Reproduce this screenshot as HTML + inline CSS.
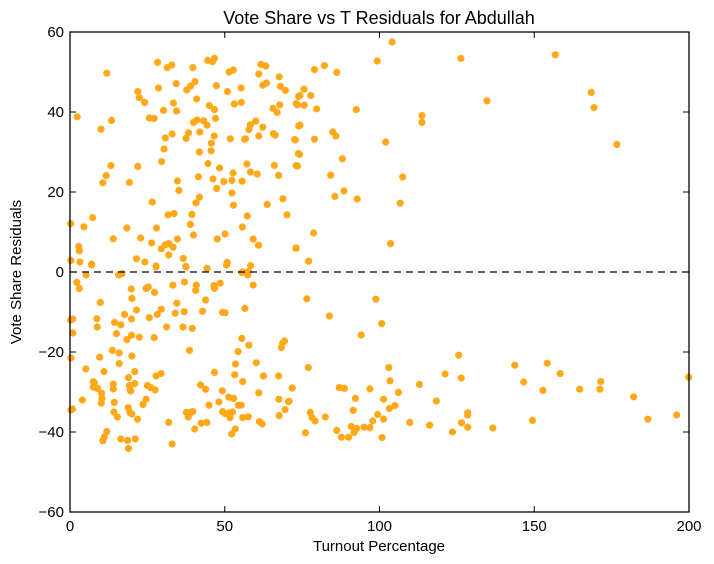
<!DOCTYPE html>
<html><head><meta charset="utf-8"><style>
body{margin:0;background:#fff;}
svg{display:block;font-family:"Liberation Sans",sans-serif;}
</style></head><body>
<svg id="chart" width="714" height="564">
<rect x="0" y="0" width="714" height="564" fill="#fff"/>
<text x="379" y="24" font-size="18" text-anchor="middle">Vote Share vs T Residuals for Abdullah</text>
<text x="379" y="551" font-size="15" text-anchor="middle">Turnout Percentage</text>
<text transform="translate(21,272) rotate(-90)" font-size="15" text-anchor="middle">Vote Share Residuals</text>
<g id="points"></g>
<g id="axes"></g>
</svg>
<script>
const xTicks = [0, 50, 100, 150, 200];
const yTicks = [-60, -40, -20, 0, 20, 40, 60];
const xs = [104.1,99.3,126.3,156.8,168.4,169.3,134.7,176.7,113.7,113.7,102,92.5,107.5,106.7,103.6,92.8,88.5,85.6,84.2,88,84.9,85.9,79,74.3,72.6,74.2,73.5,79,82.2,86.2,75.6,74.3,77.8,73.1,75.7,79.7,78.7,73,77.1,
76.5,83.8,98.8,100.7,94.1,125.6,143.7,154.2,158.4,126.4,121.2,112.9,146.6,152.8,164.7,171.2,171.5,182.1,186.7,196,199.9,149.4,136.6,128.5,128.5,128.5,126.5,123.6,118.4,116.2,109.8,106.1,103.4,103,105,103.2,101.3,101.3,100.8,99.4,97.8,96.9,95,91.5,92.2,90.9,91.8,92.6,96.9,87,88.7,87.7,90,86.2,82.5,77.6,78.2,79.2,76.1,77,71.8,70.8,
11.9,2.3,10,13.4,28.3,31.4,32.9,39.7,44.5,46,46.7,28.6,34.3,21.9,22.4,24.1,37.7,39,40.4,40.9,47.3,30.2,33.4,34.4,25.6,27.2,45,46.7,47,39.9,41,43.2,44.3,30.8,33,37.5,38.3,41.9,46.6,45.7,45.6,41.8,30.4,29.6,44.6,48.3,46.2,47.4,49.7,52.3,52.7,55.6,52.3,52.8,57.2,58.3,60.5,66,67.4,41.5,34.7,35.2,21.9,19.2,13.2,11.7,10.6,26.6,41.8,40.7,31.7,33.6,39.4,38.9,39.9,7.3,0.2,4.5,18.4,27.9,26.4,14,22.8,29.5,30.8,32,33.3,34.7,31.9,21.5,24.2,36.6,37.4,27.8,44.3,2.8,3,3.2,0.3,7,47.6,50.1,50.8,55.7,57.3,59.2,60.9,58.4,57.6,55.5,63.7,68.8,70.1,73.1,67.8,66.9,65.6,65.7,66.3,62.3,61,60,58.3,57.8,56.7,67.6,68,69.6,63.5,62.3,61,61.7,63.3,51.4,52.8,50.9,53.1,55.3,55.3,51.8,56.4,72.8,73.9,73.5,73.1,73.8,73.9,
7,5.2,2.2,3,15.7,16.8,27.8,37.5,44.3,50.6,57.4,59.2,55.8,48.5,46.5,46.7,43.8,42.8,49.3,50.1,56.5,40.8,40.6,37,33.2,34.5,34,36.9,39.5,36.5,31.2,38.6,27.3,25.3,24.6,19.8,20,21.5,9.8,25.6,28.2,29.5,19.9,17.6,14.4,16.4,8.7,8.8,0.9,0.9,15,18.4,19.9,22.4,27.2,13.7,15.9,20,15.9,9.6,5.1,11,0.3,7.5,7.9,7.5,8.9,10.2,10.3,10.1,14,14,14.3,14.2,15.3,4,0.8,18.9,20.9,19.2,19.6,19.4,20.9,18.8,19.4,20,21.8,23.6,24.6,25,26.1,27.5,27.8,29.4,11.9,11.1,10.6,16.4,18.6,21.1,18.9,31.9,33,37.6,39,38.2,39.7,40.3,42.4,44.2,42.2,43.8,46.7,44.9,48.1,49.2,49.3,50.1,51.4,51.7,51.3,52.9,52.5,52.2,53.4,54.4,55.3,55.8,57.6,53.2,53.5,54.3,55.8,55.5,57.8,60.2,62.5,61,61.2,62.1,68.3,68.7,69.3,67.4,67.5,67.6,69.5,70.6,71.8,0.2,0.3];
const ys = [57.5,52.75,53.4,54.3,44.9,41.1,42.8,31.9,39.1,37.4,32.5,40.6,23.75,17.2,7.1,18.25,20.25,18.9,24.2,28.3,35,34,33.2,36.7,33.1,29.4,26.5,50.6,51.6,49.9,45.7,44.1,44.1,42.1,41.7,40.75,9.75,5.9,2.7,
-6.7,-11,-6.8,-12.9,-15.75,-20.8,-23.3,-22.8,-25.4,-26.5,-25.5,-28.1,-27.5,-29.6,-29.3,-29.3,-27.4,-31.2,-36.8,-35.75,-26.3,-37.1,-39,-38.8,-35.75,-35.2,-37.7,-40,-32.25,-38.3,-37.6,-30.1,-27.2,-23.9,-33.4,-34.1,-31.8,-36.75,-41.4,-35.6,-37.25,-38.9,-38.8,-34.6,-31.6,-38.6,-40.1,-39.1,-29.2,-28.9,-29.1,-41.3,-41.3,-39.6,-36.25,-35.1,-36.4,-37.25,-40.2,-23.9,-29,-32.3,
49.7,38.8,35.7,37.9,52.4,51.1,51.75,51.1,52.9,52.6,53.4,46,47.1,45.1,43.6,42.4,45.5,46.5,47.6,43.25,46.6,40.4,42.25,40.25,38.5,38.4,41.6,40.6,38.4,37.4,38,37.8,36.7,33.5,34.5,33.4,34.8,35,34,32.2,30.3,30,30.75,27.6,27.1,26,23.25,20.9,22.6,22.9,24.75,22.7,19.75,16.7,27,25,24.5,26.65,24.16,23.8,22.75,20.4,26.4,22.4,26.6,24.1,22.3,17.5,18.7,17.3,14.3,14.6,14.4,11.9,9.25,13.6,12.1,11.3,11,11,7.25,8.3,8.5,5.8,6.8,7.1,6.2,8.25,4.25,3.3,2.5,3.4,1.4,1.5,0.85,6.4,5.3,2.5,2.9,2,8.25,9.5,2.4,11.25,14,8.25,6.7,1.6,0.1,-0.1,16.9,18.3,14.3,6,41.8,39.9,40.9,34.6,34.2,36.2,34,37.7,36.8,35.6,33.3,48.8,46.4,45.4,47.25,46.7,49.5,51.9,51.5,50,50.5,45.1,42,42.4,46,33.3,33.2,33,36.5,41.8,26.6,29.6,43.9,
1.75,-0.75,-2.6,-4.1,-0.75,-0.4,1.25,1.25,0.9,1.75,-0.75,-3.25,0,-2.8,-3.4,-4.1,-7,-9.8,-10.1,-10.2,-9.1,-3.25,-4.6,-2.5,-3.3,-7.8,-10.3,-9.9,-14.1,-13.75,-13.75,-19.6,-5.1,-3.75,-4.1,-4.25,-6.6,-9.5,-7.6,-11.4,-10.6,-9.3,-11.75,-10.6,-12.6,-13.2,-11.7,-13.75,-11.75,-15.25,-15.4,-16.9,-15.8,-16.3,-16.4,-19.6,-20.25,-21,-22.9,-21.3,-24.25,-24.9,-21.5,-27.4,-27.75,-28.75,-29.1,-30.3,-31.6,-32.8,-29.25,-28,-32.6,-35,-36.25,-32,-34.25,-26.4,-24.9,-28.4,-29.75,-29.3,-27.9,-33.9,-35.1,-35.5,-36.8,-33.1,-31.8,-28.4,-28.9,-29.5,-26,-25.4,-39.9,-41.25,-42.2,-41.75,-42.1,-41.75,-44.1,-37.6,-43,-35.1,-35.1,-36.25,-34.9,-39.25,-37.8,-37.6,-28.25,-29.3,-25.1,-33.3,-32.5,-29.7,-34.9,-35.4,-35.25,-36.4,-31.3,-31.6,-35,-40.5,-39.25,-33.3,-33.3,-36.4,-36.2,-25.7,-23,-19.9,-27.4,-16.6,-18.3,-22.7,-26,-30.2,-37.4,-38,-18.9,-17.75,-17.25,-26,-31.8,-35.9,-34.4,-32.4,-29,-12,-34.5];

const L=70,R=689,T=32,B=512;
const xScale=v=>L+(v-0)/(200-0)*(R-L);
const yScale=v=>B-(v+60)/120*(B-T);
const NS='http://www.w3.org/2000/svg';
const pg=document.getElementById('points');
const n=Math.min(xs.length,ys.length);
for(let i=0;i<n;i++){
  if(xs[i]<0||xs[i]>200)continue;
  const c=document.createElementNS(NS,'circle');
  c.setAttribute('cx',xScale(xs[i]).toFixed(1));
  c.setAttribute('cy',yScale(ys[i]).toFixed(1));
  c.setAttribute('r','3.6');
  c.setAttribute('fill','#ffa81a');
  
  
  pg.appendChild(c);
}
const ax=document.getElementById('axes');
function mk(tag,attrs,txt){const e=document.createElementNS(NS,tag);for(const k in attrs)e.setAttribute(k,attrs[k]);if(txt!==undefined)e.textContent=txt;ax.appendChild(e);return e;}
const zl=mk('line',{x1:L,x2:R,y1:yScale(0),y2:yScale(0),stroke:'#000','stroke-width':1.3,'stroke-dasharray':'7,5'});


const fr=mk('rect',{x:L,y:T,width:R-L,height:B-T,fill:'none',stroke:'#000','stroke-width':1.3});


xTicks.forEach(v=>{
  const x=xScale(v);
  mk('line',{x1:x,x2:x,y1:B,y2:B-6,stroke:'#000'});
  mk('line',{x1:x,x2:x,y1:T,y2:T+6,stroke:'#000'});
  const t=mk('text',{x:x,y:B+19,'font-size':15,'text-anchor':'middle'},String(v));
  
  
});
yTicks.forEach(v=>{
  const y=yScale(v);
  mk('line',{x1:L,x2:L+6,y1:y,y2:y,stroke:'#000'});
  mk('line',{x1:R,x2:R-6,y1:y,y2:y,stroke:'#000'});
  const t=mk('text',{x:L-6,y:y+5,'font-size':15,'text-anchor':'end'},v<0?'\u2212'+Math.abs(v):String(v));
  
  
});
</script>
</body></html>
